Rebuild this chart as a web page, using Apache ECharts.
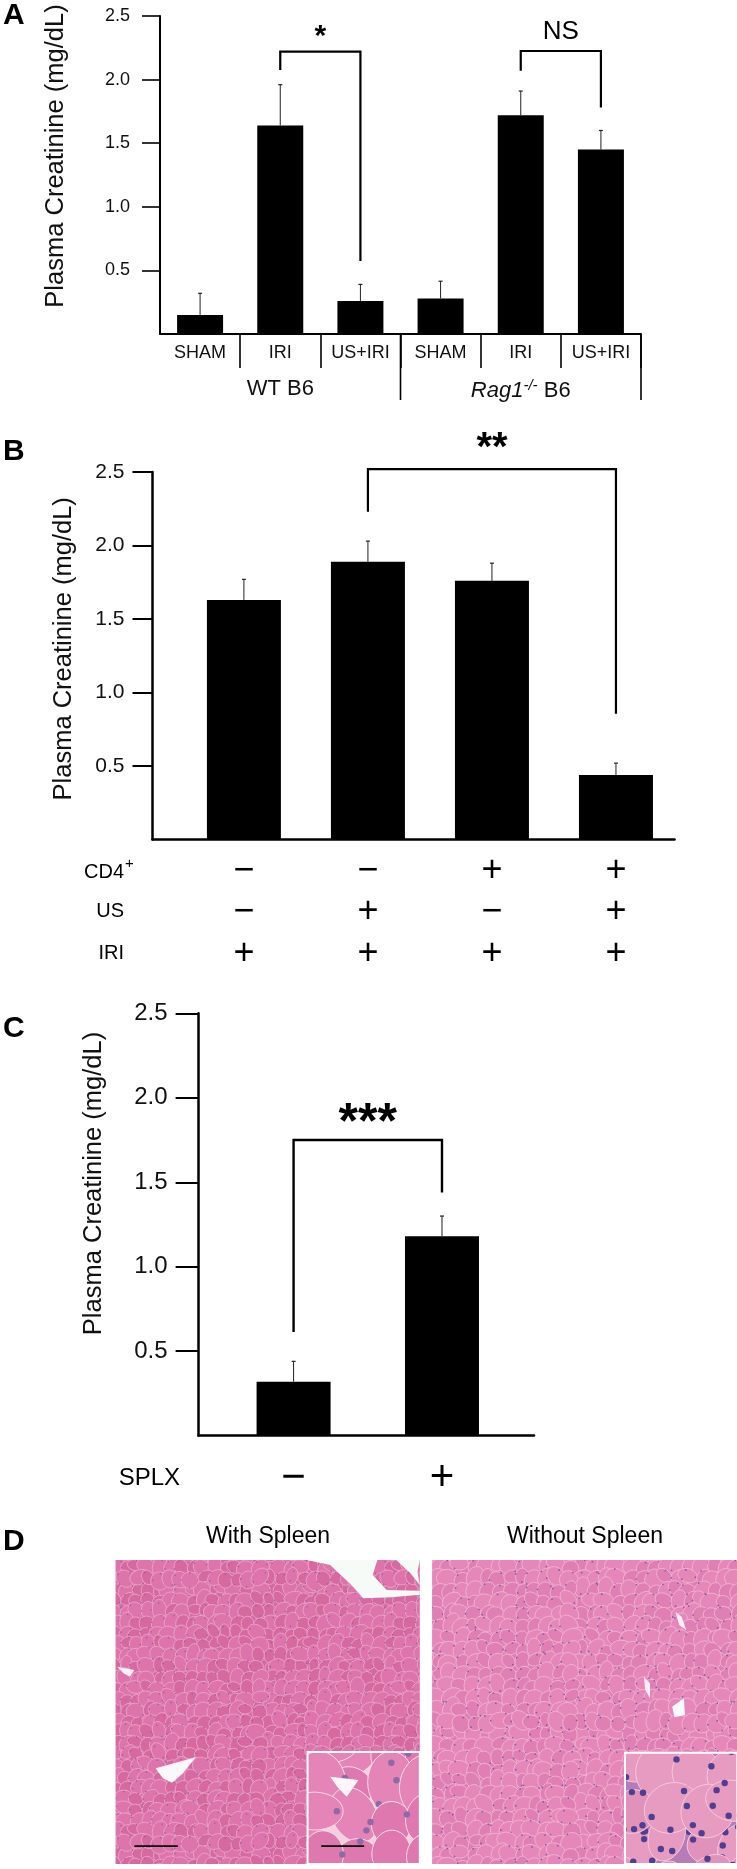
<!DOCTYPE html>
<html><head><meta charset="utf-8">
<style>html,body{margin:0;padding:0;background:#fff}#c{width:737px;height:1869px}</style>
<script src="https://cdn.jsdelivr.net/npm/echarts@6/dist/echarts.min.js"></script>
</head><body><div id="c"></div>
<script>
// ---- data ----
const categoriesA = ['SHAM','IRI','US+IRI','SHAM','IRI','US+IRI'];
const groupsA = ['WT B6','Rag1-/- B6'];
const valuesA = [0.15,1.64,0.26,0.28,1.72,1.45];
const errorTopsA = [0.32,1.96,0.39,0.415,1.91,1.60];
const bracketsA = [[1,2,2.22,2.075,0.574],[4,5,2.225,2.07,1.78]];
const bracketLabelsA = ['*','NS'];

const valuesB = [1.63,1.89,1.76,0.44];
const errorTopsB = [1.77,2.03,1.88,0.52];
const bracketsB = [[1,3,2.52,2.23,0.856]];
const bracketLabelsB = ['**'];
const rowLabelsB = ['CD4','US','IRI'];
const signsCD4 = ['−','−','+','+'];
const signsUS = ['−','+','−','+'];
const signsIRI = ['+','+','+','+'];

const valuesC = [0.32,1.18];
const errorTopsC = [0.44,1.30];
const bracketsC = [[0,1,1.75,0.614,1.44]];
const bracketLabelsC = ['***'];
const rowLabelC = 'SPLX';
const signsSPLX = ['−','+'];

const yTicks = [0.5,1.0,1.5,2.0,2.5];
const yTitle = 'Plasma Creatinine (mg/dL)';
const photoTitles = ['With Spleen','Without Spleen'];

const FF = '"Liberation Sans", Arial, sans-serif';

function yAxis(grid, size, tickLen, lineW, gap, pad, titleSize, labelGap){
  return {type:'value', gridIndex:grid, min:0, max:2.5, interval:0.5,
    name:yTitle, nameLocation:'middle', nameGap:gap, nameRotate:90, nameMoveOverlap:false,
    nameTextStyle:{fontFamily:FF,fontSize:titleSize,color:'#111',padding:pad},
    splitLine:{show:false},
    axisLine:{show:true,onZero:false,lineStyle:{color:'#000',width:lineW}},
    axisTick:{show:true,length:tickLen,customValues:yTicks,lineStyle:{color:'#000',width:lineW*0.8}},
    axisLabel:{show:true,customValues:yTicks,margin:tickLen+labelGap,fontFamily:FF,fontSize:size,color:'#111',
      formatter:v=>Number(v).toFixed(1)}};
}
function blankValueX(grid,min,max,lineW){
  return {type:'value',gridIndex:grid,min,max,splitLine:{show:false},axisTick:{show:false},axisLabel:{show:false},
    axisLine:{show:true,onZero:false,lineStyle:{color:'#000',width:lineW}}};
}
function bars(values,xi,yi,width,indexed){
  return {type:'bar',xAxisIndex:xi,yAxisIndex:yi,barWidth:width,silent:true,
    itemStyle:{color:'#000'},
    data:indexed?values.map((v,i)=>[i,v]):values};
}
function errors(values,tops,xi,yi){
  return {type:'custom',xAxisIndex:xi,yAxisIndex:yi,silent:true,z:1,
    data:values.map((v,i)=>[i,v,tops[i]]),
    encode:{x:0,y:[1,2]},
    renderItem:(p,api)=>{
      const a=api.coord([api.value(0),api.value(1)]), b=api.coord([api.value(0),api.value(2)]);
      return {type:'group',children:[
        {type:'line',shape:{x1:a[0],y1:a[1],x2:b[0],y2:b[1]},style:{stroke:'#222',lineWidth:1}},
        {type:'line',shape:{x1:b[0]-2,y1:b[1],x2:b[0]+2,y2:b[1]},style:{stroke:'#222',lineWidth:1.2}}
      ]};
    }};
}
function brackets(rows,labels,xi,yi,lw,font,labelLift){
  return {type:'custom',xAxisIndex:xi,yAxisIndex:yi,silent:true,z:3,clip:false,
    data:rows, encode:{x:[0,1],y:[2,3,4]},
    renderItem:(p,api)=>{
      const l=api.coord([api.value(0),api.value(3)]), lt=api.coord([api.value(0),api.value(2)]);
      const rt=api.coord([api.value(1),api.value(2)]), r=api.coord([api.value(1),api.value(4)]);
      return {type:'group',children:[
        {type:'polyline',shape:{points:[l,lt,rt,r]},style:{stroke:'#000',lineWidth:lw,fill:null}},
        {type:'text',style:{text:labels[p.dataIndex],x:(lt[0]+rt[0])/2,y:lt[1]-labelLift[p.dataIndex],
          font:font[p.dataIndex],fill:'#000',align:'center',verticalAlign:'middle'}}
      ]};
    }};
}
function signRow(signs,xi,yi,dy,fontSize){
  return {type:'custom',xAxisIndex:xi,yAxisIndex:yi,silent:true,clip:false,
    data:signs.map((s,i)=>[i,0]), encode:{x:0,y:1},
    renderItem:(p,api)=>{
      const c=api.coord([api.value(0),0]);
      return {type:'text',style:{text:signs[p.dataIndex],x:c[0],y:c[1]+dy,
        font:fontSize+'px '+FF,fill:'#000',align:'center',verticalAlign:'middle'}};
    }};
}
// group dividers under panel A, at category boundaries
function groupDividers(){
  return {type:'custom',xAxisIndex:0,yAxisIndex:0,silent:true,clip:false,
    data:[[2,0],[5,0]],encode:{x:0,y:1},
    renderItem:(p,api)=>{
      const c=api.coord([api.value(0),0]), w=api.size([1,0])[0];
      const x=c[0]+w/2;
      return {type:'line',shape:{x1:x,y1:c[1],x2:x,y2:c[1]+66},style:{stroke:'#000',lineWidth:1.6}};
    }};
}

// ---- histology texture (decorative, deterministic, no chart data) ----
const hash=(a,b)=>{const v=Math.sin(a*12.9898+b*78.233)*43758.5453;return v-Math.floor(v);};
function tile(seed,n,step,base,cellA,cellB,ring,dot,rad,nuc,dotR){
  const s=n*step, cv=document.createElement('canvas'); cv.width=s; cv.height=s;
  const g=cv.getContext('2d'); g.fillStyle=base; g.fillRect(0,0,s,s);
  for(let r=0;r<n;r++)for(let k=0;k<n;k++){
    const h1=hash(r+seed,k), h2=hash(k+seed,r+7), h3=hash(r+k+seed,r*3+1);
    const cx=(k+0.5+(h1-0.5)*0.5)*step, cy=(r+0.5+(h2-0.5)*0.5)*step;
    const rr=rad*(0.8+0.4*h3), rot=h1*3.14, ax=0.65+0.35*h2;
    for(const ox of [0,s,-s])for(const oy of [0,s,-s]){
      if(cx+ox<-rad*2||cx+ox>s+rad*2||cy+oy<-rad*2||cy+oy>s+rad*2)continue;
      g.beginPath();g.ellipse(cx+ox,cy+oy,rr,rr*ax,rot,0,6.283);
      g.fillStyle=h3>0.5?cellA:cellB;g.fill();g.strokeStyle=ring;g.lineWidth=1;g.stroke();
      for(let m=0;m<nuc;m++){
        if(hash(m+r,k+seed)<0.4)continue;
        const a=m*6.283/nuc+rot, d=hash(m,r+k)*0.25+0.75;
        g.beginPath();g.arc(cx+ox+Math.cos(a)*rr*d,cy+oy+Math.sin(a)*rr*ax*d,dotR,0,6.283);
        g.fillStyle=dot;g.fill();
      }
    }
  }
  return cv;
}
const z=(x,y)=>[x/2.12,1510+y/3];
const poly=(pts,fill)=>({type:'polygon',silent:true,shape:{points:pts.map(p=>z(p[0],p[1]))},style:{fill}});
const rectZ=(x0,y0,x1,y1,style)=>{const a=z(x0,y0),b=z(x1,y1);
  return {type:'rect',silent:true,shape:{x:a[0],y:a[1],width:b[0]-a[0],height:b[1]-a[1]},style};};
const T=(text,x,y,font,extra)=>({type:'text',silent:true,style:Object.assign({text,x,y,font,fill:'#000',align:'center',verticalAlign:'middle'},extra||{})});

const graphicEls=[
  T('A',3,16,'bold 30px '+FF,{align:'left'}),
  T('B',3,452,'bold 30px '+FF,{align:'left'}),
  T('C',3,1029,'bold 30px '+FF,{align:'left'}),
  T('D',3,1542,'bold 30px '+FF,{align:'left'}),
  T(rowLabelsB[0],124,872,'20px '+FF,{align:'right'}),
  T('+',125,864,'15px '+FF,{align:'left'}),
  T(rowLabelsB[1],124,911,'20px '+FF,{align:'right'}),
  T(rowLabelsB[2],124,953,'20px '+FF,{align:'right'}),
  T(rowLabelC,180,1478,'24px '+FF,{align:'right'}),
  T(photoTitles[0],268,1537,'23px '+FF),
  T(photoTitles[1],585,1537,'23px '+FF),
  // left micrograph
  rectZ(245,150,890,1062,{fill:{image:tile(3,24,11,'#d46aa2','#dd74ab','#d6699f','#e9a0c4','#a05fa3',8.5,4,0.8),repeat:'repeat'}}),
  poly([[650,150],[700,165],[745,225],[770,265],[830,262],[890,254],[890,242],[820,240],[790,195],[800,150]],'#f6fbf8'),
  poly([[840,150],[890,150],[885,185],[890,225],[870,190]],'#f6fbf8'),
  poly([[330,775],[415,742],[388,790],[365,818],[345,805]],'#fbf8fa'),
  poly([[248,470],[285,480],[275,500],[262,490]],'#fbf0f5'),
  rectZ(652,726,890,1062,{fill:{image:tile(5,5,34,'#f3cfe0','#e584b6','#de78ae','#f7dde9','#8d6aa6',27,4,3.2),repeat:'repeat'},stroke:'#fff',lineWidth:2}),
  poly([[700,800],[760,810],[735,860],[715,830]],'#fff6fa'),
  rectZ(285,1006,377,1011,{fill:'#000'}),
  rectZ(681,1006,772,1011,{fill:'#000'}),
  // right micrograph
  rectZ(916,150,1563,1062,{fill:{image:tile(9,24,12,'#dd7fb3','#e588b9','#e07fb3','#efb0d0','#8a5ca6',9.5,3,0.9),repeat:'repeat'}}),
  poly([[1425,590],[1450,565],[1452,615],[1430,622]],'#fbfbfb'),
  poly([[1432,305],[1445,320],[1455,360],[1440,345]],'#fbf0f6'),
  poly([[1365,500],[1378,520],[1378,565],[1368,540]],'#fbeef5'),
  rectZ(1325,728,1563,1062,{fill:{image:tile(11,4,38,'#b57cb8','#e79bc1','#e192ba','#f4c9dd','#4f3f92',25,12,3.2),repeat:'repeat'},stroke:'#fff',lineWidth:2})
];

const option={
  animation:false, backgroundColor:'#fff', tooltip:{show:false}, legend:{show:false},
  grid:[
    {left:160,top:16,width:481,height:318,outerBoundsMode:'none'},
    {left:152.5,top:472,width:522,height:367.6,outerBoundsMode:'none'},
    {left:198.6,top:1013.3,width:335.4,height:422.4,outerBoundsMode:'none'}
  ],
  xAxis:[
    {type:'category',gridIndex:0,position:'bottom',data:categoriesA,
      axisLine:{show:true,onZero:false,lineStyle:{color:'#000',width:2}},
      axisTick:{show:true,length:34,interval:i=>i>0,lineStyle:{color:'#000',width:1.6}},
      axisLabel:{interval:0,margin:10,fontFamily:FF,fontSize:18,color:'#111'}},
    {type:'category',gridIndex:0,position:'bottom',data:groupsA,
      axisLine:{show:false},axisTick:{show:false},
      axisLabel:{interval:0,margin:44,color:'#111',fontFamily:FF,fontSize:22,
        formatter:v=>v.indexOf('Rag1')===0?'{i|Rag1}{s|-/-}{n| B6}':v,
        rich:{i:{fontFamily:FF,fontSize:22,fontStyle:'italic',color:'#111'},
              s:{fontFamily:FF,fontSize:15,fontStyle:'italic',color:'#111',padding:[0,0,10,0]},
              n:{fontFamily:FF,fontSize:22,color:'#111'}}}},
    blankValueX(1,-0.737,3.472,2.5),
    blankValueX(2,-0.64,1.62,2.5)
  ],
  yAxis:[
    yAxis(0,18,18,2,91,[0,0,0,38],25.5,12),
    yAxis(1,21,20,2.5,76,[0,0,0,14],25.5,8),
    yAxis(2,24,23,2.5,92,[0,0,0,82],25.5,8)
  ],
  series:[
    bars(valuesA,0,0,46,false),
    errors(valuesA,errorTopsA,0,0),
    brackets(bracketsA,bracketLabelsA,0,0,2.2,['bold 30px '+FF,'26px '+FF],[15,19]),
    groupDividers(),
    bars(valuesB,2,1,74,true),
    errors(valuesB,errorTopsB,2,1),
    brackets(bracketsB,bracketLabelsB,2,1,2.2,['bold 40px '+FF],[20]),
    signRow(signsCD4,2,1,31,36),
    signRow(signsUS,2,1,72,36),
    signRow(signsIRI,2,1,114,36),
    bars(valuesC,3,2,74,true),
    errors(valuesC,errorTopsC,3,2),
    brackets(bracketsC,bracketLabelsC,3,2,2.4,['bold 50px '+FF],[16]),
    signRow(signsSPLX,3,2,43,42)
  ],
  graphic:{elements:graphicEls}
};
echarts.init(document.getElementById('c'),null,{renderer:'canvas'}).setOption(option);
</script></body></html>
